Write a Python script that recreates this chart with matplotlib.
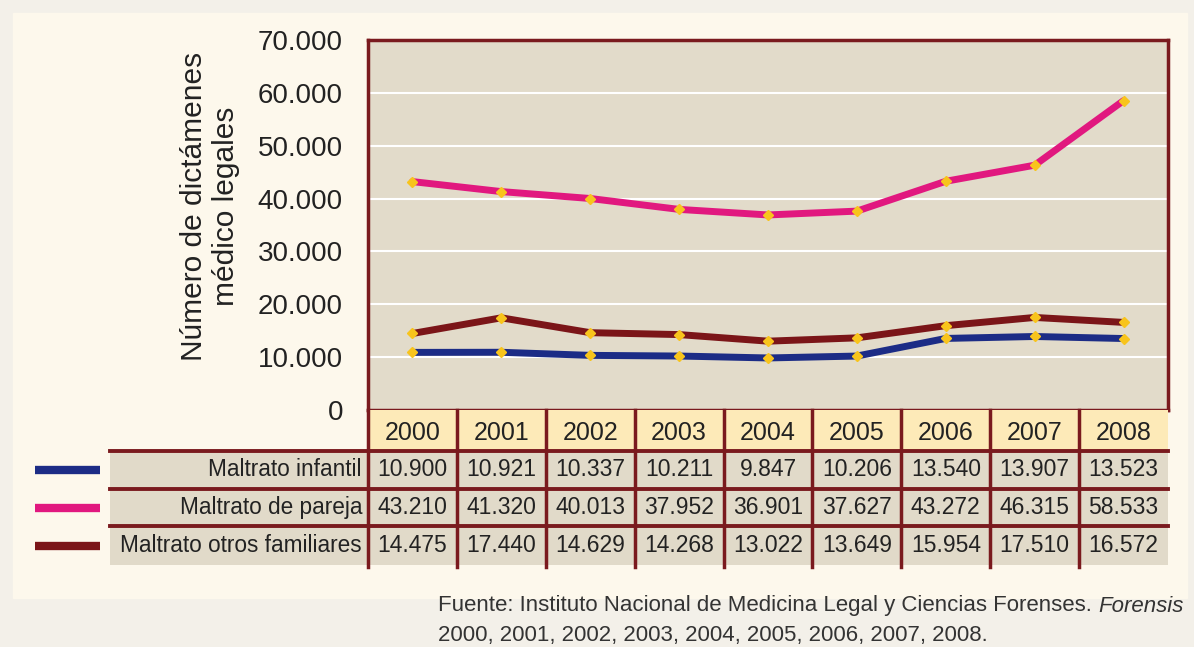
import matplotlib
matplotlib.use("Agg")
import matplotlib.pyplot as plt
from matplotlib.patches import Rectangle
from matplotlib.ticker import FuncFormatter

years = ["2000", "2001", "2002", "2003", "2004", "2005", "2006", "2007", "2008"]
series_names = ["Maltrato infantil", "Maltrato de pareja", "Maltrato otros familiares"]
infantil = [10900, 10921, 10337, 10211, 9847, 10206, 13540, 13907, 13523]
pareja = [43210, 41320, 40013, 37952, 36901, 37627, 43272, 46315, 58533]
otros = [14475, 17440, 14629, 14268, 13022, 13649, 15954, 17510, 16572]
y_ticks = [0, 10000, 20000, 30000, 40000, 50000, 60000, 70000]

W, H = 1194, 647
DARK = "#7a1a1e"
TXT = "#222222"
colors = ["#1c2c86", "#e1187f", "#7b1518"]
plt.rcParams["font.family"] = ["Liberation Sans", "DejaVu Sans"]


def fmt(v):
    return f"{v:,.0f}".replace(",", ".")


fig = plt.figure(figsize=(W / 100, H / 100), dpi=100, facecolor="#f3f0e9")

# background panel in pixel coords
bg = fig.add_axes([0, 0, 1, 1])
bg.set_xlim(0, W)
bg.set_ylim(H, 0)
bg.axis("off")
bg.add_patch(Rectangle((13, 13), 1174, 585, color="#fdf8ec", zorder=0))

# main plot
ax = fig.add_axes([368 / W, (H - 410) / H, 800 / W, 370 / H])
ax.set_facecolor("#e2dbca")
x = list(range(len(years)))
for vals, c in zip([infantil, pareja, otros], colors):
    ax.plot(x, vals, color=c, lw=5, solid_capstyle="round", zorder=3)
    ax.plot(x, vals, ls="none", marker="D", ms=5, color="#f8c41c", zorder=4)
ax.set_xlim(-0.5, len(years) - 0.5)
ax.set_ylim(0, 70000)
ax.set_yticks(y_ticks)
ax.yaxis.set_major_formatter(FuncFormatter(lambda v, p: fmt(v)))
ax.set_xticks([])
ax.tick_params(axis="y", length=0, pad=18, labelsize=20, labelcolor=TXT)
ax.grid(axis="y", color="white", lw=1.5, zorder=1)
for s in ax.spines.values():
    s.set_color(DARK)
    s.set_linewidth(2.5)
ax.set_ylabel("Número de dictámenes\nmédico legales", fontsize=21.5,
              color=TXT, linespacing=1.2)
ax.yaxis.set_label_coords(-0.16, 0.55)

# data table under the plot (x in column units, y in pixels)
tax = fig.add_axes([368 / W, (H - 572) / H, 800 / W, 162 / H])
tax.set_xlim(-0.5, len(years) - 0.5)
tax.set_ylim(572, 410)
tax.axis("off")
col_px = 800 / len(years)


def px2x(p):
    return -0.5 + (p - 368) / col_px


for i, yr in enumerate(years):
    tax.add_patch(Rectangle((i - 0.5, 410), 1, 41, fc="#fdeab8", ec="none", clip_on=False))
    tax.text(i, 433, yr, ha="center", va="center", fontsize=18, color=TXT)

rows = [(452, 488), (489, 526), (527, 565)]
label_left = px2x(110)
for r, (name, vals, c) in enumerate(zip(series_names, [infantil, pareja, otros], colors)):
    y0, y1 = rows[r]
    yc = (y0 + y1) / 2
    tax.add_patch(Rectangle((label_left, y0), len(years) - 0.5 - label_left, y1 - y0,
                            fc="#e1dac9", ec="none", clip_on=False))
    tax.text(px2x(362), yc, name, ha="right", va="center", fontsize=16.3, color=TXT)
    for i, v in enumerate(vals):
        tax.text(i, yc, fmt(v), ha="center", va="center", fontsize=16.5, color=TXT)
    tax.plot([px2x(35), px2x(100)], [yc, yc], color=c, lw=6, solid_capstyle="butt", clip_on=False)

for yl in [451, 488.5, 526]:
    tax.plot([label_left, len(years) - 0.5], [yl, yl], color=DARK, lw=2.8, clip_on=False)
for k in range(len(years)):
    tax.plot([k - 0.5, k - 0.5], [410, 567], color=DARK, lw=2.5, clip_on=False)

# source note
fig.canvas.draw()
r = fig.canvas.get_renderer()
t1 = bg.text(438, 606, "Fuente: Instituto Nacional de Medicina Legal y Ciencias Forenses. ",
             ha="left", va="center", fontsize=16, color="#333333")
ext = t1.get_window_extent(renderer=r)
x_right = bg.transData.inverted().transform((ext.x1, 0))[0]
bg.text(x_right, 606, "Forensis", ha="left", va="center", fontsize=16,
        style="italic", color="#333333")
bg.text(438, 635, ", ".join(years) + ".", ha="left", va="center", fontsize=16,
        color="#333333")

fig.savefig("out.png", dpi=100, facecolor=fig.get_facecolor())
